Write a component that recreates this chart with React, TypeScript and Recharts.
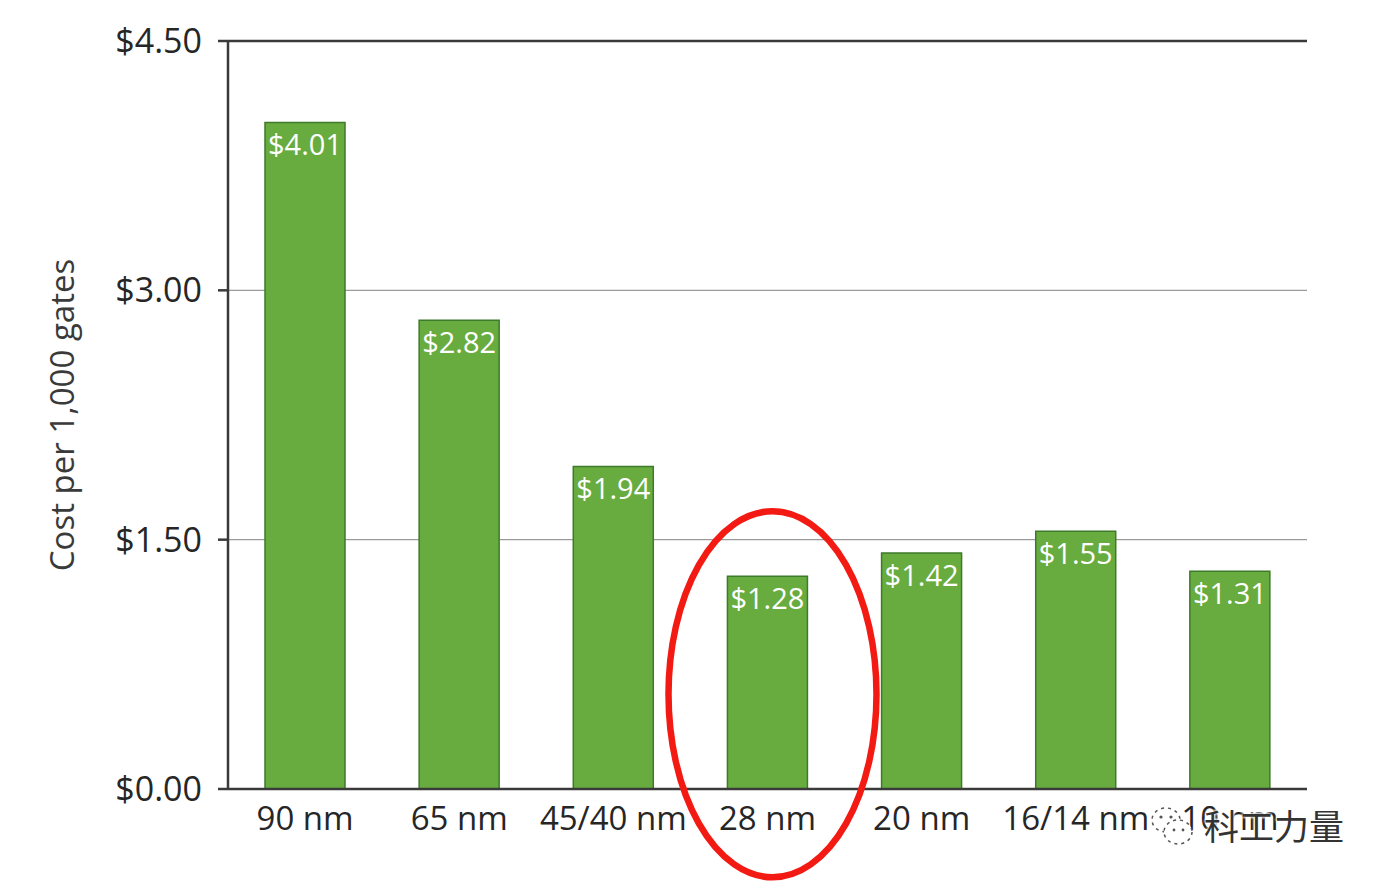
import React from "react";
import {
  BarChart,
  Bar,
  XAxis,
  YAxis,
  CartesianGrid,
  LabelList,
  ReferenceLine,
  ReferenceDot,
} from "recharts";

const nodes = ["90 nm", "65 nm", "45/40 nm", "28 nm", "20 nm", "16/14 nm", "10 nm"];
const costs = [4.01, 2.82, 1.94, 1.28, 1.42, 1.55, 1.31];
const yTicks = [0, 1.5, 3, 4.5];
const edgeTicks = [0, 1, 2, 3, 4, 5, 6, 7];

const data = nodes.map((node, i) => ({ node, cost: costs[i] }));

const font = "'Open Sans', 'DejaVu Sans', sans-serif";
const ink = "#262626";

const money = (v: number) => `$${Number(v).toFixed(2)}`;

function Ellipse(props: any) {
  const { cx, cy } = props;
  if (cx == null || cy == null) return <g />;
  return (
    <ellipse
      cx={cx + 5}
      cy={cy}
      rx={104}
      ry={183}
      fill="none"
      stroke="#f21a12"
      strokeWidth={6.5}
    />
  );
}

function Watermark() {
  return (
    <div
      style={{
        position: "absolute",
        left: 1146,
        top: 796,
        display: "flex",
        alignItems: "center",
        fontFamily: "'Noto Sans CJK SC', sans-serif",
        fontSize: 35,
        color: "#333",
        textShadow: "0 0 3px #fff, 0 0 3px #fff, 0 0 3px #fff",
      }}
    >
      <svg width={52} height={56} style={{ marginRight: 6 }}>
        <ellipse cx={20} cy={24} rx={14} ry={12} fill="#fff" stroke="#555" strokeWidth={1.5} strokeDasharray="3 4" />
        <ellipse cx={32} cy={36} rx={14} ry={12} fill="#fff" stroke="#555" strokeWidth={1.5} strokeDasharray="3 4" />
        <circle cx={15} cy={21} r={1.6} fill="#555" />
        <circle cx={25} cy={21} r={1.6} fill="#555" />
        <circle cx={28} cy={34} r={1.4} fill="#555" />
        <circle cx={37} cy={34} r={1.4} fill="#555" />
      </svg>
      <span>科工力量</span>
    </div>
  );
}

export default function App() {
  return (
    <div style={{ position: "absolute", left: 0, top: 0, width: 1386, height: 888, background: "#fff" }}>
      <BarChart
        width={1386}
        height={888}
        data={data}
        margin={{ top: 41, right: 79, bottom: 0, left: 0 }}
      >
        <CartesianGrid vertical={false} stroke="#9a9a9a" strokeWidth={1.2} />
        <XAxis
          dataKey="node"
          height={99}
          tickLine={false}
          axisLine={{ stroke: "#3a3a3a", strokeWidth: 2.5 }}
          tickSize={10}
          tickMargin={8}
          tick={{ fill: ink, fontSize: 33, fontFamily: font }}
          interval={0}
        />
        <XAxis
          xAxisId="edges"
          type="number"
          domain={[0, 7]}
          ticks={edgeTicks}
          height={0}
          axisLine={false}
          tickLine={{ stroke: "#3a3a3a", strokeWidth: 2.5 }}
          tickSize={10}
          tick={() => <g />}
        />
        <YAxis
          width={228}
          domain={[0, 4.5]}
          ticks={yTicks}
          tickFormatter={money}
          axisLine={{ stroke: "#3a3a3a", strokeWidth: 2.5 }}
          tickLine={{ stroke: "#3a3a3a", strokeWidth: 2.5 }}
          tickSize={10}
          tickMargin={16}
          tick={{ fill: ink, fontSize: 34, fontFamily: font }}
          label={{
            value: "Cost per 1,000 gates",
            angle: -90,
            position: "insideLeft",
            offset: 62,
            style: { textAnchor: "middle", fill: "#3a3a3a", fontSize: 33, fontFamily: font },
          }}
        />
        <ReferenceLine y={4.5} stroke="#3a3a3a" strokeWidth={2.5} />
        <ReferenceLine xAxisId="edges" x={7} stroke="#3a3a3a" strokeWidth={2.5} />
        <Bar
          dataKey="cost"
          barSize={80}
          fill="#68ac3f"
          stroke="#3d7a2a"
          strokeWidth={1.5}
          isAnimationActive={false}
        >
          <LabelList
            dataKey="cost"
            position="insideTop"
            offset={12}
            formatter={(v: any) => money(v)}
            style={{ fill: "#ffffff", fontSize: 29, fontFamily: font }}
          />
        </Bar>
        <ReferenceDot
          x="28 nm"
          y={0.57}
          r={1}
          ifOverflow="visible"
          shape={(p: any) => <Ellipse {...p} />}
        />
      </BarChart>
      <Watermark />
    </div>
  );
}
